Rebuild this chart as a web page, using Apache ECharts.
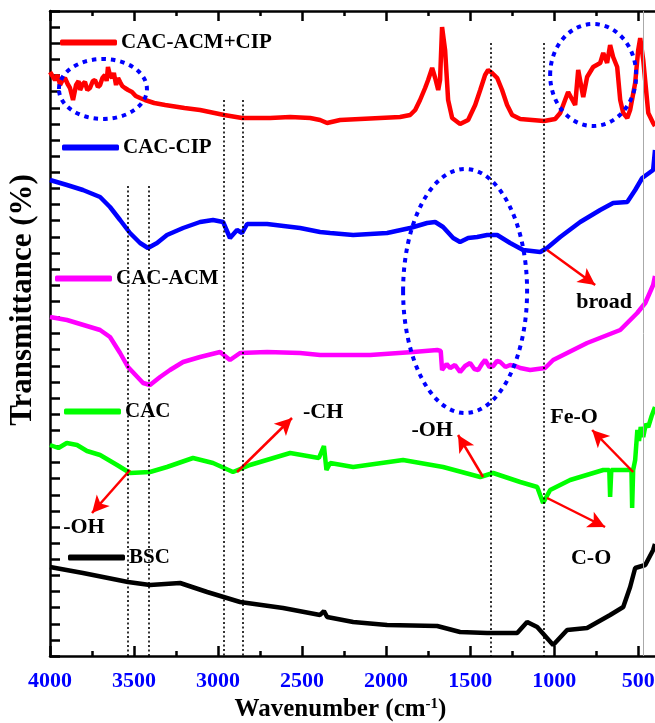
<!DOCTYPE html>
<html><head><meta charset="utf-8">
<script src="https://cdn.jsdelivr.net/npm/echarts@6/dist/echarts.min.js"></script>
<style>html,body{margin:0;padding:0;background:#fff}#c{width:655px;height:723px}</style>
</head><body><div id="c"></div>
<script>
// ---- data (wavenumber cm-1, offset transmittance a.u.) ----
const seriesNames = ['CAC-ACM+CIP','CAC-CIP','CAC-ACM','CAC','BSC'];
const seriesColors = ['#ff0000','#0000ff','#ff00ff','#00ff00','#000000'];

const cacAcmCip = [[4000,584],[3985,580],[3970,576],[3955,581],[3940,571],[3925,576],[3911,578],[3895,572],[3881,568],[3863,556],[3845,571],[3830,575],[3821,566],[3805,572],[3792,574],[3778,566],[3762,568],[3745,575],[3732,576],[3715,569],[3702,571],[3688,578],[3673,581],[3663,575],[3655,589],[3645,582],[3631,578],[3620,583],[3607,571],[3595,578],[3583,574],[3570,570],[3554,568],[3535,566],[3512,564],[3490,560],[3464,558],[3435,556],[3380,553],[3315,551],[3200,548],[3107,546],[2964,541],[2857,538],[2690,538],[2571,539],[2452,538],[2393,536],[2351,533],[2274,536],[2155,537],[2036,538],[1917,539],[1857,541],[1827,546],[1798,556],[1768,568],[1750,576],[1726,588],[1708,578],[1690,566],[1679,576],[1667,629],[1649,606],[1631,556],[1607,538],[1560,532],[1512,536],[1470,551],[1440,566],[1411,581],[1393,586],[1369,583],[1339,578],[1310,566],[1280,551],[1250,541],[1202,537],[1060,535],[994,537],[964,543],[935,556],[917,564],[875,551],[857,586],[827,559],[804,579],[768,589],[726,593],[708,603],[685,593],[667,611],[649,599],[625,589],[607,556],[589,543],[565,538],[548,546],[518,573],[500,606],[488,618],[470,596],[440,543],[411,533],[400,530]];

const cacCip = [[4000,476],[3899,471],[3804,466],[3702,459],[3643,449],[3583,436],[3524,423],[3464,413],[3417,408],[3363,413],[3304,421],[3208,428],[3107,434],[3030,436],[2970,434],[2929,418],[2887,426],[2857,423],[2827,432],[2708,432],[2512,428],[2393,424],[2333,423],[2196,421],[1994,423],[1857,428],[1756,433],[1708,434],[1661,429],[1601,418],[1560,414],[1512,418],[1458,419],[1399,421],[1339,421],[1262,413],[1185,406],[1083,404],[1042,408],[964,419],[845,434],[726,446],[649,453],[565,454],[518,466],[476,478],[411,486],[400,506]];

const cacAcm = [[4000,339],[3899,336],[3702,326],[3643,319],[3583,303],[3536,289],[3446,273],[3405,271],[3345,279],[3286,286],[3208,294],[3107,299],[2988,304],[2929,296],[2869,303],[2708,304],[2512,303],[2393,301],[2095,301],[1839,304],[1696,306],[1675,305],[1667,286],[1640,292],[1619,288],[1590,291],[1560,284],[1530,290],[1500,293],[1475,287],[1452,286],[1430,292],[1411,296],[1385,289],[1363,290],[1340,295],[1321,294],[1290,289],[1262,291],[1230,290],[1202,288],[1143,286],[1054,288],[1006,296],[804,313],[607,326],[506,343],[458,353],[411,371],[400,380]];

const cac = [[4000,211],[3950,208],[3900,213],[3839,211],[3780,205],[3702,201],[3601,191],[3524,183],[3405,184],[3304,189],[3149,198],[3030,193],[2911,184],[2810,191],[2571,203],[2400,198],[2370,210],[2355,186],[2333,193],[2196,189],[1899,196],[1661,189],[1440,179],[1363,183],[1202,174],[1101,169],[1066,153],[1024,166],[905,176],[708,186],[672,186],[667,159],[660,186],[565,186],[540,186],[536,148],[530,186],[518,196],[505,226],[495,215],[485,229],[470,219],[455,232],[440,229],[420,240],[400,249]];

const bsc = [[4000,89],[3804,83],[3536,74],[3405,71],[3226,73],[3065,64],[2869,54],[2613,48],[2393,41],[2370,45],[2351,39],[2196,34],[1994,31],[1696,30],[1560,24],[1399,23],[1220,23],[1161,34],[1101,29],[1006,11],[923,26],[804,28],[667,41],[589,49],[548,69],[518,88],[458,91],[411,106],[400,112]];

const xTickLabels = [4000,3500,3000,2500,2000,1500,1000,500];
const xMinorTicks = [3750,3250,2750,2250,1750,1250,750];

// reference band positions (cm-1) and the level where each dotted guide starts
const guideWn = [3535,3410,2965,2855,1665,1375,1060];
const guideTop = [470,470,556,556,648,613,613];
const thinGuideWn = 470;

// annotation arrows: [from, to] in (cm-1, a.u.)
const arrows = [
  [[3524,186],[3750,143]],
  [[2887,184],[2560,238]],
  [[1423,179],[1572,221]],
  [[530,184],[774,226]],
  [[1042,158],[697,129]],
  [[1042,406],[756,371]]
];
const noteTexts = ['-OH','-CH','-OH','Fe-O','C-O','broad'];
const notePos = [[3798,129],[2375,244],[1726,226],[881,239],[780,98],[703,354]];
const ellipseCenters = [[3685,567],[768,581],[1530,365]];

const FONT = '"Liberation Serif","Times New Roman",serif';
const allData = [cacAcmCip, cacCip, cacAcm, cac, bsc];

const chart = echarts.init(document.getElementById('c'), null, {renderer:'canvas'});

const baseX = {type:'value', min:400, max:4000, inverse:true, gridIndex:0, splitLine:{show:false}};
const legendLayout = [[60,32],[62,137],[55,268],[64,401],[68,547]];

const option = {
  animation:false,
  backgroundColor:'#ffffff',
  grid:{left:50, right:0, top:11, bottom:67, containLabel:false, outerBoundsMode:'none'},
  legend: seriesNames.map((n,i)=>({
    data:[n], left:legendLayout[i][0], top:legendLayout[i][1], padding:0,
    icon:'roundRect', itemWidth:57, itemHeight:6, selectedMode:false,
    textStyle:{fontFamily:FONT, fontWeight:'bold', fontSize:21, color:'#000', padding:[0,0,0,-1]}
  })),
  xAxis:[
    Object.assign({}, baseX, {position:'bottom',
      axisLine:{show:true, onZero:false, lineStyle:{color:'#000', width:2.5}},
      axisTick:{show:true, inside:true, length:10, lineStyle:{color:'#000', width:2.5}, customValues:xTickLabels},
      axisLabel:{show:true, customValues:xTickLabels, formatter:v=>String(v), hideOverlap:false,
        color:'#0000ff', fontFamily:FONT, fontWeight:'bold', fontSize:22, margin:14},
      name:'Wavenumber (cm{sup|-1})', nameLocation:'middle', nameGap:40,
      nameTextStyle:{fontFamily:FONT, fontWeight:'bold', fontSize:25, color:'#000', padding:[0,24,0,0],
        rich:{sup:{fontFamily:FONT, fontWeight:'bold', fontSize:15, color:'#000', verticalAlign:'top', padding:[0,0,10,0]}}}
    }),
    Object.assign({}, baseX, {position:'bottom',
      axisLine:{show:false}, axisLabel:{show:false},
      axisTick:{show:true, inside:true, length:5, lineStyle:{color:'#000', width:2.5}, customValues:xMinorTicks}
    }),
    Object.assign({}, baseX, {position:'top',
      axisLine:{show:true, onZero:false, lineStyle:{color:'#000', width:2.5}}, axisLabel:{show:false},
      axisTick:{show:true, inside:true, length:10, lineStyle:{color:'#000', width:2.5}, customValues:xTickLabels}
    }),
    Object.assign({}, baseX, {position:'top',
      axisLine:{show:false}, axisLabel:{show:false},
      axisTick:{show:true, inside:true, length:5, lineStyle:{color:'#000', width:2.5}, customValues:xMinorTicks}
    })
  ],
  yAxis:{type:'value', min:0, max:645, interval:16.125, position:'left',
    axisLine:{show:true, onZero:false, lineStyle:{color:'#000', width:2.5}},
    axisTick:{show:true, inside:true, length:10, lineStyle:{color:'#000', width:2.5}},
    axisLabel:{show:false}, splitLine:{show:false}
  },
  series: seriesNames.map((n,i)=>({
    name:n, type:'line', data:allData[i], xAxisIndex:0, yAxisIndex:0,
    showSymbol:false, symbol:'none', silent:true, z:3,
    lineStyle:{color:seriesColors[i], width:4.5},
    itemStyle:{color:seriesColors[i]}
  }))
};

// dotted guide lines on the BSC series
option.series[4].clip = false;
option.series[4].markLine = {
  silent:true, symbol:'none', animation:false, label:{show:false},
  data: guideWn.map((w,i)=>[{coord:[w,guideTop[i]], lineStyle:{color:'#000', width:1.6, type:[2,2.5]}},{coord:[w,0]}])
    .concat([[{coord:[thinGuideWn,645], lineStyle:{color:'#aaaaaa', width:1, type:'solid'}},{coord:[thinGuideWn,0]}]])
};
// red arrows on the CAC series
option.series[3].markLine = {
  silent:true, symbol:['none','arrow'], symbolSize:[13,17], animation:false, label:{show:false},
  lineStyle:{color:'#ff0000', width:2.5, type:'solid'},
  data: arrows.map(a=>[{coord:a[0]},{coord:a[1]}])
};

chart.setOption(option);

const toPx = p => chart.convertToPixel({xAxisIndex:0, yAxisIndex:0}, p);
const ellR = [[44,30],[43,51],[62,122]];
const graphics = [];
ellipseCenters.forEach((c,i)=>{
  const p = toPx(c);
  graphics.push({type:'ellipse', silent:true, z:10,
    shape:{cx:p[0], cy:p[1], rx:ellR[i][0], ry:ellR[i][1]},
    style:{fill:null, stroke:'#0000ff', lineWidth:4, lineDash:[4.5,5]}});
});
noteTexts.forEach((t,i)=>{
  const p = toPx(notePos[i]);
  graphics.push({type:'text', silent:true, z:10, x:p[0], y:p[1],
    style:{text:t, font:'bold 22px ' + FONT, fill:'#000', align:'center', verticalAlign:'middle'}});
});
graphics.push({type:'text', silent:true, z:10, x:23, y:300, rotation:Math.PI/2,
  style:{text:'Transmittance (%)', font:'bold 31px ' + FONT, fill:'#000', align:'center', verticalAlign:'middle'}});
chart.setOption({graphic:graphics});
</script></body></html>
